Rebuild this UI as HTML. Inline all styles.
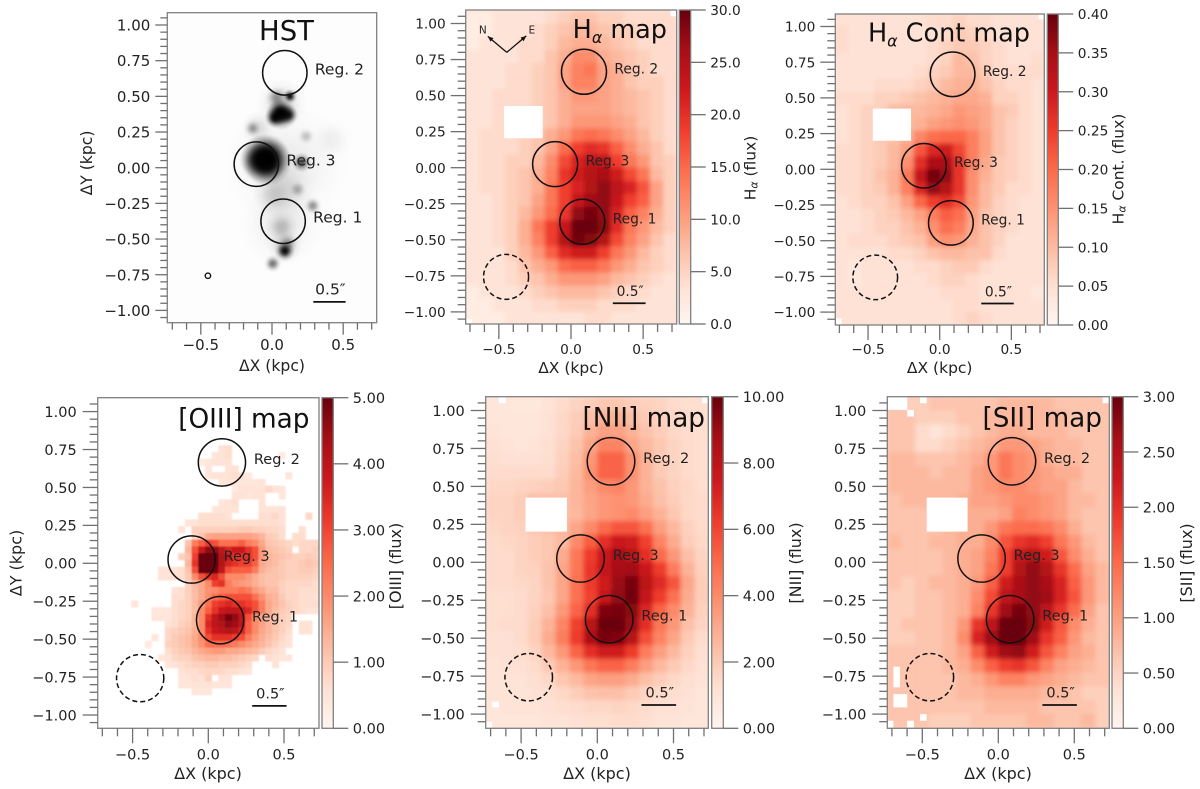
<!DOCTYPE html>
<html lang="en">
<head>
<meta charset="utf-8">
<title>Emission line maps</title>
<style>
html,body{margin:0;padding:0;background:#fff;width:1200px;height:789px;overflow:hidden}
svg{display:block}
text{font-family:"DejaVu Sans","Liberation Sans",sans-serif;fill:#222}
</style>
</head>
<body>
<svg id="figure" xmlns="http://www.w3.org/2000/svg" width="1200" height="789" viewBox="0 0 1200 789">
<defs>
<radialGradient id="psf"><stop offset="0" stop-color="#000" stop-opacity="1"/><stop offset=".3" stop-color="#000" stop-opacity=".8"/><stop offset=".5" stop-color="#000" stop-opacity=".48"/><stop offset=".7" stop-color="#000" stop-opacity=".2"/><stop offset="1" stop-color="#000" stop-opacity="0"/></radialGradient>
<filter id="softLarge" x="-5%" y="-5%" width="110%" height="110%"><feGaussianBlur stdDeviation="2.4"/></filter>
<filter id="softSmall" x="-5%" y="-5%" width="110%" height="110%"><feGaussianBlur stdDeviation="0.7"/></filter>
<filter id="softHst" x="-5%" y="-5%" width="110%" height="110%"><feGaussianBlur stdDeviation="0.9"/></filter>
<linearGradient id="redsBar" x1="0" y1="1" x2="0" y2="0"></linearGradient>
</defs>
</svg>
<script>
// Axis tick data (kpc)
const xMajorTicks = [-0.5, 0, 0.5];
const xMajorLabels = ['\u22120.5', '0.0', '0.5'];
const xMinorTicks = [-0.7, -0.6, -0.4, -0.3, -0.2, -0.1, 0.1, 0.2, 0.3, 0.4, 0.6, 0.7];
const yMajorTicks = [1, 0.75, 0.5, 0.25, 0, -0.25, -0.5, -0.75, -1];
const yMajorLabels = ['1.00', '0.75', '0.50', '0.25', '0.00', '\u22120.25', '\u22120.50', '\u22120.75', '\u22121.00'];
const yMinorTicks = [1.05, 0.95, 0.9, 0.85, 0.8, 0.7, 0.65, 0.6, 0.55, 0.45, 0.4, 0.35, 0.3, 0.2, 0.15, 0.1, 0.05, -0.05, -0.1, -0.15, -0.2, -0.3, -0.35, -0.4, -0.45, -0.55, -0.6, -0.65, -0.7, -0.8, -0.85, -0.9, -0.95, -1.05];

// Colour bar ticks (flux)
const haBarValues = [0, 5, 10, 15, 20, 25, 30];
const haBarLabels = ['0.0', '5.0', '10.0', '15.0', '20.0', '25.0', '30.0'];
const contBarValues = [0, 0.05, 0.1, 0.15, 0.2, 0.25, 0.3, 0.35, 0.4];
const contBarLabels = ['0.00', '0.05', '0.10', '0.15', '0.20', '0.25', '0.30', '0.35', '0.40'];
const oiiiBarValues = [0, 1, 2, 3, 4, 5];
const oiiiBarLabels = ['0.00', '1.00', '2.00', '3.00', '4.00', '5.00'];
const niiBarValues = [0, 2, 4, 6, 8, 10];
const niiBarLabels = ['0.00', '2.00', '4.00', '6.00', '8.00', '10.00'];
const siiBarValues = [0, 0.5, 1, 1.5, 2, 2.5, 3];
const siiBarLabels = ['0.00', '0.50', '1.00', '1.50', '2.00', '2.50', '3.00'];

// Region apertures: name, x, y (kpc)
const regionNames = ['Reg. 2', 'Reg. 3', 'Reg. 1'];
const regionX = [0.09, -0.11, 0.078];
const regionY = [0.665, 0.025, -0.375];
const regionRadius = 0.156;
const backgroundAperture = [-0.45, -0.757];

// Hubble image: bright knots (x, y, radius in kpc, darkness)
const hstKnotX = [0.1, 0.07, 0.07, 0.42, -0.1, 0.08, 0.09, -0.06, -0.03, -0.04, -0.1, 0.063, 0.06, 0.02, 0.115, 0.126, 0.033, -0.136, 0.24, 0.208, 0.18, 0.286, 0.09, 0.005, 0.068, 0.01, 0.11];
const hstKnotY = [0.02, -0.4, 0.45, 0.2, 0.28, -0.15, -0.55, 0.06, 0.04, 0.07, 0.05, 0.375, 0.385, 0.35, 0.37, 0.5, 0.49, 0.276, 0.22, 0.037, -0.152, -0.267, -0.583, -0.672, -0.415, -0.2, -0.53];
const hstKnotR = [0.45, 0.3, 0.18, 0.15, 0.12, 0.22, 0.12, 0.17, 0.17, 0.17, 0.12, 0.11, 0.09, 0.07, 0.07, 0.05, 0.08, 0.06, 0.06, 0.07, 0.06, 0.06, 0.07, 0.06, 0.11, 0.14, 0.07];
const hstKnotI = [0.07, 0.08, 0.14, 0.05, 0.12, 0.12, 0.18, 1, 1, 1, 0.5, 1, 1, 1, 0.9, 1, 0.4, 0.35, 0.22, 0.7, 0.28, 0.42, 1, 0.55, 0.22, 0.1, 0.3];

// H-alpha flux, 16 x 24 map, top row first
const haValues = [
[1,1,2,2,2,2,3,4,5,5,4,4,3,3,3,3],
[1,1,2,2,2,3,4,5,6,6,5,4,4,3,3,3],
[1,2,2,2,3,3,4,6,7,7,6,5,4,3,3,3],
[2,2,2,2,3,3,5,7,10,10,7,6,5,4,3,3],
[2,2,2,3,3,4,5,8,11,12,8,7,5,4,3,3],
[2,2,2,3,3,4,5,8,11,11,8,7,5,4,4,3],
[2,2,3,3,3,4,5,7,9,9,8,7,6,5,4,3],
[2,2,3,3,3,4,5,7,8,8,8,7,6,5,4,3],
[2,2,3,3,3,4,5,7,9,9,9,8,7,5,4,3],
[2,3,3,3,4,5,7,9,12,13,12,10,8,6,4,3],
[2,3,3,3,4,5,8,13,17,19,18,14,10,7,5,3],
[2,3,3,4,4,6,10,16,20,23,23,17,12,9,5,4],
[2,3,3,4,5,7,11,18,21,24,25,21,16,12,6,4],
[2,3,3,4,5,7,12,17,20,24,27,23,20,15,8,4],
[2,2,3,4,5,8,12,17,22,26,27,22,17,14,8,4],
[2,2,3,4,6,9,13,18,27,29,27,20,14,11,7,4],
[2,2,3,4,7,12,17,22,30,30,28,19,12,9,6,4],
[2,2,3,4,7,11,17,24,29,28,24,16,11,8,5,3],
[2,2,2,4,6,9,14,19,21,21,17,12,9,6,4,3],
[2,2,2,3,5,7,9,13,14,14,12,9,7,5,4,3],
[2,2,2,3,4,5,7,9,9,9,8,6,5,4,3,2],
[1,2,2,2,3,4,5,6,6,6,5,4,3,3,2,2],
[1,1,2,2,2,3,3,4,4,4,3,3,3,2,2,2],
[1,1,1,2,2,2,2,2,2,3,3,2,2,2,2,2]];

// H-alpha continuum flux x 100
const contValues = [
[3,3,3,3,3,3,3,4,4,5,4,4,3,3,3,3],
[4,3,3,3,3,3,3,3,4,6,5,4,3,3,3,3],
[4,3,3,3,3,3,3,4,5,6,6,5,4,3,3,3],
[3,3,3,3,3,3,3,4,5,8,7,5,4,3,3,4],
[3,3,3,3,3,3,4,5,6,8,8,6,4,4,4,4],
[3,3,3,4,4,4,5,6,8,9,9,7,5,4,4,3],
[4,4,4,5,5,6,7,8,9,10,10,9,5,5,4,3],
[3,4,5,5,8,8,8,9,10,12,11,10,7,6,4,3],
[3,4,5,6,8,8,9,11,12,13,12,10,7,5,4,3],
[3,4,5,6,7,9,14,17,18,18,15,11,7,5,4,3],
[4,4,5,6,8,11,20,26,28,22,15,11,7,5,4,3],
[4,4,5,6,8,13,25,33,33,24,15,10,6,5,4,3],
[4,4,5,7,9,16,30,39,36,24,13,9,6,5,4,3],
[4,4,5,6,9,15,26,36,32,24,13,8,6,4,4,3],
[3,4,5,5,7,11,18,23,25,21,12,8,5,4,3,3],
[3,3,4,5,6,8,11,15,19,17,11,7,5,4,3,3],
[3,3,4,5,5,7,9,13,17,15,10,7,5,4,3,3],
[3,4,4,4,5,6,7,11,13,12,9,7,5,3,3,3],
[3,3,3,3,4,4,5,7,8,8,7,7,4,3,3,3],
[3,2,3,3,3,3,4,4,5,6,6,4,3,3,3,3],
[3,2,3,3,3,3,3,4,5,5,4,3,3,3,3,3],
[3,3,3,3,3,3,3,3,4,4,4,3,3,3,3,2],
[3,3,3,3,3,3,3,3,3,4,4,3,3,3,3,3],
[3,3,3,3,3,3,3,3,3,4,5,4,3,3,3,3]];

// [NII] flux x 10
const niiValues = [
[6,6,5,5,7,10,12,14,16,16,14,13,12,10,9,9],
[6,6,6,6,8,11,14,18,22,22,18,15,13,11,10,9],
[7,6,6,6,8,11,15,22,27,27,22,17,14,11,10,9],
[8,7,6,7,9,12,17,26,36,36,26,20,16,12,10,9],
[9,8,8,8,9,13,19,30,46,46,32,22,15,12,10,9],
[10,10,10,10,10,14,20,32,46,46,32,22,15,12,10,9],
[11,11,12,13,14,16,21,28,34,36,30,22,17,13,11,9],
[12,12,14,18,18,18,21,26,30,32,30,24,18,14,11,10],
[12,12,14,18,18,18,20,26,30,32,34,28,22,16,11,10],
[11,12,13,16,18,20,26,34,44,50,50,42,28,20,13,10],
[10,11,12,14,16,20,34,48,62,72,70,56,36,24,14,11],
[10,10,12,14,16,24,40,58,72,82,78,62,44,30,18,12],
[10,10,12,13,17,26,40,60,74,84,86,72,58,38,22,13],
[10,10,11,12,17,26,42,58,70,88,96,78,64,50,26,14],
[9,9,10,12,16,26,42,56,72,90,98,74,58,42,24,14],
[9,9,10,13,18,30,46,62,94,96,92,66,46,34,22,13],
[9,10,10,14,22,36,56,78,99,99,88,62,40,30,18,12],
[8,8,10,14,24,38,58,82,96,94,80,52,36,26,15,10],
[8,8,9,12,20,30,46,62,70,70,58,38,28,20,13,9],
[7,8,8,10,15,22,30,40,46,46,38,28,20,15,11,8],
[7,7,7,9,11,16,20,26,28,28,24,18,14,11,9,7],
[7,7,7,8,9,11,14,17,18,18,15,12,10,9,8,6],
[6,7,7,7,8,9,10,11,11,12,11,10,8,8,7,6],
[6,6,6,6,7,7,8,9,9,10,10,9,7,7,6,6]];

// [SII] flux x 10
const siiValues = [
[5,4,4,5,5,5,5,5,6,6,6,6,5,5,5,5],
[5,5,4,4,4,5,5,6,6,6,6,6,6,5,5,5],
[5,5,3,2,3,4,5,6,7,7,6,6,6,5,5,5],
[5,5,3,3,4,5,6,7,9,9,8,7,6,6,5,5],
[6,6,5,5,5,6,7,9,12,10,9,7,6,6,5,5],
[6,6,6,5,6,6,8,9,12,10,9,8,7,7,5,5],
[6,6,6,6,6,6,8,9,10,10,9,8,8,6,5,5],
[5,6,6,6,6,7,8,8,9,10,10,9,8,6,6,5],
[5,5,5,6,6,7,7,7,8,11,10,9,8,6,5,5],
[5,5,5,5,6,7,7,9,12,13,13,12,10,7,5,5],
[6,5,5,6,6,7,7,10,15,18,19,17,12,9,6,5],
[5,5,5,5,6,7,8,11,17,22,24,21,15,10,7,5],
[5,5,5,5,6,7,8,12,17,24,27,24,18,13,8,6],
[5,4,5,6,6,7,9,14,21,25,27,25,20,14,9,6],
[4,4,5,5,6,7,10,16,23,25,27,26,20,15,9,6],
[4,4,5,5,6,7,11,18,26,29,27,23,18,13,8,5],
[4,5,5,5,6,9,18,23,30,30,28,21,15,10,7,5],
[4,4,5,5,6,10,20,26,30,30,26,18,14,9,6,5],
[5,5,5,5,6,8,14,21,26,27,21,15,11,8,7,5],
[5,5,5,5,6,7,10,14,17,18,15,11,8,7,6,5],
[5,5,5,5,5,6,7,9,11,11,9,8,7,6,5,5],
[5,5,5,5,5,6,6,7,7,7,7,6,6,5,4,4],
[5,5,5,5,5,5,5,6,6,6,6,5,5,5,5,4],
[5,5,5,4,4,4,5,5,5,5,6,6,5,5,6,4]];

// [OIII] flux x 10, 33 x 49 map: first filled column for each row, then its values (0 = no detection)
const oiiiStartColumn = [0,0,0,0,0,0,0,18,17,15,16,16,18,20,20,18,17,15,13,12,14,13,13,12,13,9,9,13,11,11,5,8,8,10,10,8,7,10,9,10,12,12,12,14,0,0,0,0,0];
const oiiiValues = [
[],[],[],[],[],[],[],
[5,6],
[4,5,6,0,0,0,0,0,0,0,3],
[3,4,5,5,5],
[4,0,0,5,5],
[4,5,5,5,6,5,3,0,0,0,0,0,4],
[4,5,4,4,4,4,5],
[3,5,5,5,5,7,5,4],
[5,5,4,5,5,0,0,4],
[4,5,6,0,0,0,5],
[4,5,5,5,0,0,0,5,5,5,5],
[6,6,6,6,5,0,0,0,0,6,6,7,5,0,0,0,7],
[5,5,6,6,6,6,6,6,6,6,6,6,6,6,5],
[5,0,8,8,8,8,8,8,8,9,9,8,8,7,7,6,0,0,6],
[7,10,14,15,15,15,15,15,15,14,12,9,8,6,0,6,6],
[10,20,24,28,26,22,22,22,24,20,18,14,10,9,8,7,6,7,7,7],
[12,26,34,42,42,36,32,34,34,30,26,16,11,10,9,8,0,7,7,8],
[8,10,28,48,50,46,38,34,30,30,30,26,16,12,11,10,9,8,8,9,8],
[12,30,50,50,46,38,32,30,28,28,24,14,12,11,9,8,8,9,10,9],
[5,5,5,6,10,26,46,48,44,36,26,24,24,24,20,13,11,10,9,8,8,9,9,8],
[5,5,5,6,9,18,26,30,32,26,18,18,18,16,13,11,10,10,9,8,8,8,8,7],
[8,12,14,18,28,30,20,17,16,15,13,11,10,10,8,7,7,7,7,6],
[5,6,8,11,14,17,18,20,20,20,22,20,16,14,11,11,8,7,7,6,6,6],
[6,6,8,11,14,18,22,24,26,26,26,26,22,17,13,12,9,7,7,6,6,5],
[4,0,0,0,0,0,6,7,8,11,16,22,28,30,32,30,30,28,26,20,14,12,10,8,7,6,6,6],
[4,4,4,6,7,8,11,18,24,30,34,36,36,34,32,26,20,14,11,9,8,7,6,5,5],
[4,4,4,6,7,8,12,18,30,36,40,44,42,36,26,18,14,12,10,8,7],
[5,6,8,9,12,18,32,36,38,42,40,36,24,18,15,12,10,8,7,0,5,5],
[7,8,9,10,13,18,30,34,36,38,36,32,24,18,14,12,10,8,6,0,5,5],
[4,0,7,9,10,11,14,18,26,30,30,30,28,26,20,16,13,11,9,7,5],
[3,0,0,8,9,10,11,14,17,22,22,22,22,20,18,16,14,12,10,8,6,5],
[6,8,9,10,12,14,15,16,16,14,14,13,12,11,9,7,6,5],
[4,5,7,8,8,10,11,12,12,11,11,10,9,8,7,0,6,5,4,4],
[4,5,6,7,8,8,9,9,8,8,8,7,6,0,0,0,5],
[5,6,6,7,7,7,7,6,6,5,4],
[4,5,6,5,8,0,5,5],
[4,4,5,5,5,4,4,4],
[4,4,4],
[],[],[],[],[]];

// Masked regions (xmin, xmax, ymin, ymax in kpc)
const haMasked = [[-0.464,-0.196,0.204,0.428],[0.69,0.73,1.05,1.09],[-0.73,-0.685,-1.087,-1.05]];
const contMasked = [[-0.467,-0.2,0.2,0.425],[0.69,0.73,1.05,1.09],[-0.73,-0.685,-1.09,-1.045]];
const niiMasked = [[-0.471,-0.199,0.202,0.426],[-0.647,-0.6,1.048,1.09],[0.69,0.73,1.048,1.09],[-0.69,-0.645,-0.956,-0.918],[-0.73,-0.69,-1.09,-1.05]];
const siiMasked = [[-0.471,-0.202,0.202,0.426],[-0.73,-0.599,1.004,1.09],[-0.599,-0.555,0.96,1.004],[-0.515,-0.471,1.048,1.09],[-0.69,-0.647,-0.824,-0.688],[-0.69,-0.599,-0.956,-0.868],[-0.515,-0.471,-1.044,-1.0],[-0.73,-0.69,-1.09,-1.044],[-0.6,-0.555,-1.09,-1.044],[0.686,0.73,1.048,1.09]];

// Reds colour map
const redsStops = ['#fff5f0','#fee0d2','#fcbba1','#fc9272','#fb6a4a','#ef3b2c','#cb181d','#a50f15','#67000d'];

const SVGNS = 'http://www.w3.org/2000/svg';
const root = document.getElementById('figure');
const XLIM = [-0.73, 0.73];
const YLIM = [-1.09, 1.09];

function hexToRgb(h) {
  return [parseInt(h.slice(1, 3), 16), parseInt(h.slice(3, 5), 16), parseInt(h.slice(5, 7), 16)];
}
function reds(t) {
  const u = Math.max(0, Math.min(1, t)) * (redsStops.length - 1);
  const i = Math.min(redsStops.length - 2, Math.floor(u));
  const a = hexToRgb(redsStops[i]);
  const b = hexToRgb(redsStops[i + 1]);
  const f = u - i;
  return 'rgb(' + a.map(function (v, k) { return Math.round(v + (b[k] - v) * f); }).join(',') + ')';
}
function make(tag, parent, name, attrs, interact) {
  const el = document.createElementNS(SVGNS, tag);
  
  
  Object.keys(attrs).forEach(function (k) { el.setAttribute(k, attrs[k]); });
  parent.appendChild(el);
  return el;
}
function label(parent, name, str, attrs) {
  const t = make('text', parent, name, attrs);
  t.textContent = str;
  return t;
}

redsStops.forEach(function (c, i) {
  const s = document.createElementNS(SVGNS, 'stop');
  s.setAttribute('offset', i / (redsStops.length - 1));
  s.setAttribute('stop-color', c);
  document.getElementById('redsBar').appendChild(s);
});

function drawPanel(p) {
  const g = make('g', root, p.id + '-panel', {});
  const sx = function (v) { return p.x0 + v * p.kx; };
  const sy = function (v) { return p.y0 - v * p.ky; };
  const clipId = 'clip-' + p.id;
  const defs = document.createElementNS(SVGNS, 'clipPath');
  defs.setAttribute('id', clipId);
  const cr = document.createElementNS(SVGNS, 'rect');
  cr.setAttribute('x', p.l); cr.setAttribute('y', p.t);
  cr.setAttribute('width', p.r - p.l); cr.setAttribute('height', p.b - p.t);
  defs.appendChild(cr);
  root.querySelector('defs').appendChild(defs);

  const plot = make('g', g, p.id + '-image', { 'clip-path': 'url(#' + clipId + ')' });
  make('rect', plot, p.id + '-image-background', { x: p.l, y: p.t, width: p.r - p.l, height: p.b - p.t, fill: p.bg });

  if (p.knots) {
    const kg = make('g', plot, 'hst-knots', { filter: 'url(#softHst)' });
    hstKnotX.forEach(function (x, i) {
      make('ellipse', kg, 'hst-knot', {
        cx: sx(x), cy: sy(hstKnotY[i]),
        rx: hstKnotR[i] * p.kx, ry: hstKnotR[i] * p.ky,
        fill: 'url(#psf)', 'fill-opacity': hstKnotI[i]
      });
    });
  }
  if (p.values) {
    const cells = make('g', plot, p.id + '-heatmap', { filter: 'url(#' + p.soft + ')' });
    const nRows = p.values.length;
    const nCols = p.columns;
    const dx = (XLIM[1] - XLIM[0]) / nCols;
    const dy = (YLIM[1] - YLIM[0]) / nRows;
    p.values.forEach(function (row, r) {
      const start = p.starts ? p.starts[r] : 0;
      row.forEach(function (v, c) {
        if (!v) return;
        const cx0 = XLIM[0] + (start + c) * dx;
        const cy1 = YLIM[1] - r * dy;
        make('rect', cells, p.id + '-cell', {
          x: sx(cx0), y: sy(cy1),
          width: dx * p.kx + 0.35, height: dy * p.ky + 0.35,
          fill: reds(Math.pow(Math.min(1, v * p.gain / p.vmax), p.gamma))
        });
      });
    });
  }
  (p.masked || []).forEach(function (m) {
    make('rect', plot, p.id + '-masked-region', {
      x: sx(m[0]), y: sy(m[3]), width: (m[1] - m[0]) * p.kx, height: (m[3] - m[2]) * p.ky, fill: '#fff'
    });
  });

  // apertures
  regionNames.forEach(function (n, i) {
    make('ellipse', g, 'aperture-' + (i === 0 ? 'reg-2' : i === 1 ? 'reg-3' : 'reg-1'), {
      cx: sx(regionX[i]), cy: sy(regionY[i]), rx: regionRadius * p.kx, ry: regionRadius * p.ky,
      fill: 'none', stroke: '#111', 'stroke-width': 1.5
    });
    const lx = regionX[i] + regionRadius + 0.055;
    label(g, 'region-label', n, { x: sx(lx), y: sy(regionY[i]) + 1.5, 'font-size': p.regFs });
  });
  if (p.knots) {
    make('ellipse', g, 'psf-circle', { cx: sx(backgroundAperture[0]), cy: sy(backgroundAperture[1]), rx: 2.7, ry: 2.7, fill: 'none', stroke: '#111', 'stroke-width': 1.4 });
  } else {
    make('ellipse', g, 'background-aperture', {
      cx: sx(backgroundAperture[0]), cy: sy(backgroundAperture[1]), rx: regionRadius * p.kx, ry: regionRadius * p.ky,
      fill: 'none', stroke: '#111', 'stroke-width': 1.5, 'stroke-dasharray': '5 3'
    });
  }

  // scale bar
  make('line', g, 'scale-bar', { x1: sx(0.29), x2: sx(0.517), y1: sy(-0.94), y2: sy(-0.94), stroke: '#111', 'stroke-width': 1.7 });
  label(g, 'scale-bar-label', '0.5\u2033', { x: sx(0.41), y: sy(-0.89), 'font-size': p.regFs, 'text-anchor': 'middle' });

  // title
  const tt = make('text', g, 'panel-title', { x: p.titleX, y: p.titleY, 'font-size': p.titleFs, 'text-anchor': p.titleAnchor, style: 'fill:#111' });
  p.title.forEach(function (part) {
    const ts = document.createElementNS(SVGNS, 'tspan');
    ts.textContent = part[0];
    if (part[1] === 'sub') {
      ts.setAttribute('font-size', p.titleFs * 0.62);
      ts.setAttribute('font-style', 'italic');
      ts.setAttribute('dy', 5);
    } else if (part[1] === 'after') {
      ts.setAttribute('dy', -5);
    }
    tt.appendChild(ts);
  });

  // frame
  make('rect', g, p.id + '-axes-frame', { x: p.l, y: p.t, width: p.r - p.l, height: p.b - p.t, fill: 'none', stroke: '#808080', 'stroke-width': 1.3 });

  // ticks
  const tickStroke = { stroke: '#707070', 'stroke-width': 1.3 };
  function tick(name, x1, y1, x2, y2) {
    make('line', g, name, Object.assign({ x1: x1, y1: y1, x2: x2, y2: y2 }, tickStroke));
  }
  xMinorTicks.forEach(function (v) { tick('x-minor-tick', sx(v), p.b, sx(v), p.b + p.minor); });
  xMajorTicks.forEach(function (v, i) {
    tick('x-major-tick', sx(v), p.b, sx(v), p.b + p.major);
    label(g, 'x-tick-label', xMajorLabels[i], { x: sx(v), y: p.b + p.xTickDy, 'font-size': p.fs, 'text-anchor': 'middle' });
  });
  yMinorTicks.forEach(function (v) { tick('y-minor-tick', p.l - p.minor, sy(v), p.l, sy(v)); });
  yMajorTicks.forEach(function (v, i) {
    tick('y-major-tick', p.l - p.major, sy(v), p.l, sy(v));
    label(g, 'y-tick-label', yMajorLabels[i], { x: p.l - p.yTickGap, y: sy(v) + p.fs * 0.37, 'font-size': p.fs, 'text-anchor': 'end' });
  });
  label(g, 'x-axis-title', '\u0394X (kpc)', { x: p.xLabelX, y: p.b + p.xLabelDy, 'font-size': p.labelFs, 'text-anchor': 'middle' });
  if (p.yLabelX) {
    label(g, 'y-axis-title', '\u0394Y (kpc)', {
      x: p.yLabelX, y: p.yLabelY, 'font-size': p.labelFs, 'text-anchor': 'middle', 'dominant-baseline': 'central',
      transform: 'rotate(-90 ' + p.yLabelX + ' ' + p.yLabelY + ')'
    });
  }

  // colour bar
  if (p.barL) {
    const barH = p.b - p.t;
    make('rect', g, p.id + '-colorbar', { x: p.barL, y: p.t, width: p.barR - p.barL, height: barH, fill: 'url(#redsBar)', stroke: '#808080', 'stroke-width': 1.3 });
    const top = p.barValues[p.barValues.length - 1];
    p.barValues.forEach(function (v, i) {
      const y = p.b - (v / top) * barH;
      tick('colorbar-tick', p.barR, y, p.barR + p.major, y);
      label(g, 'colorbar-tick-label', p.barLabels[i], { x: p.barR + p.major + 4.5, y: y + p.fs * 0.37, 'font-size': p.fs });
    });
    const cb = make('text', g, 'colorbar-title', {
      x: p.barTitleX, y: p.barTitleY, 'font-size': p.labelFs, 'text-anchor': 'middle', 'dominant-baseline': 'central',
      transform: 'rotate(-90 ' + p.barTitleX + ' ' + p.barTitleY + ')'
    });
    p.barTitle.forEach(function (part) {
      const ts = document.createElementNS(SVGNS, 'tspan');
      ts.textContent = part[0];
      if (part[1] === 'sub') {
        ts.setAttribute('font-size', p.labelFs * 0.7);
        ts.setAttribute('font-style', 'italic');
        ts.setAttribute('dy', 3);
      } else if (part[1] === 'after') {
        ts.setAttribute('dy', -3);
      }
      cb.appendChild(ts);
    });
  }

  // north / east compass
  if (p.compass) {
    const vx = p.x0 - 0.445 * p.kx, vy = p.y0 - 0.80 * p.ky;
    [[-19, -16, 'compass-north-arrow'], [19.5, -16.5, 'compass-east-arrow']].forEach(function (a) {
      make('line', g, a[2], { x1: vx, y1: vy, x2: vx + a[0], y2: vy + a[1], stroke: '#111', 'stroke-width': 1.3 });
      const ang = Math.atan2(a[1], a[0]);
      const ex = vx + a[0], ey = vy + a[1];
      const pts = [[ex, ey], [ex - 6 * Math.cos(ang - 0.4), ey - 6 * Math.sin(ang - 0.4)], [ex - 6 * Math.cos(ang + 0.4), ey - 6 * Math.sin(ang + 0.4)]];
      make('polygon', g, a[2] + '-head', { points: pts.map(function (q) { return q.join(','); }).join(' '), fill: '#111' });
    });
    label(g, 'compass-north-label', 'N', { x: vx - 24, y: vy - 19, 'font-size': 10.5, 'text-anchor': 'middle' });
    label(g, 'compass-east-label', 'E', { x: vx + 25, y: vy - 19, 'font-size': 10.5, 'text-anchor': 'middle' });
  }
}

const panels = [
  { id: 'hst', l: 167.3, r: 376.7, t: 12.7, b: 322.7, x0: 272, y0: 167.7, kx: 142.4, ky: 142.7, bg: '#fdfdfd', knots: true,
    fs: 15, regFs: 15.5, labelFs: 15.6, major: 12, minor: 7, xTickDy: 27.5, yTickGap: 17, xLabelX: 272, xLabelDy: 48.5, yLabelX: 87, yLabelY: 163,
    title: [['HST']], titleX: 286.5, titleY: 40, titleFs: 27.5, titleAnchor: 'middle' },
  { id: 'h-alpha', l: 465.7, r: 676.7, t: 10, b: 324, x0: 571, y0: 167.7, kx: 144.3, ky: 144.2, bg: '#fee5d9', values: haValues, columns: 16, vmax: 30, gain: 1, gamma: 0.85, soft: 'softLarge', masked: haMasked,
    fs: 13.7, regFs: 13.8, labelFs: 15.5, major: 15, minor: 8, xTickDy: 30, yTickGap: 20, xLabelX: 571, xLabelDy: 49,
    title: [['H'], ['\u03b1', 'sub'], [' map', 'after']], titleX: 667, titleY: 38, titleFs: 25.5, titleAnchor: 'end', compass: true,
    barL: 679.3, barR: 690.7, barValues: haBarValues, barLabels: haBarLabels, barTitle: [['H'], ['\u03b1', 'sub'], [' (flux)', 'after']], barTitleX: 750.5, barTitleY: 168 },
  { id: 'h-alpha-cont', l: 835.3, r: 1044.3, t: 14, b: 325, x0: 939.7, y0: 169.3, kx: 143.3, ky: 142.8, bg: '#fee5d9', values: contValues, columns: 16, vmax: 40, gain: 1, gamma: 0.85, soft: 'softLarge', masked: contMasked,
    fs: 13.7, regFs: 13.8, labelFs: 15.5, major: 15, minor: 8, xTickDy: 29, yTickGap: 20, xLabelX: 939.7, xLabelDy: 48,
    title: [['H'], ['\u03b1', 'sub'], [' Cont map', 'after']], titleX: 1030, titleY: 41.5, titleFs: 25.5, titleAnchor: 'end',
    barL: 1047.3, barR: 1058.3, barValues: contBarValues, barLabels: contBarLabels, barTitle: [['H'], ['\u03b1', 'sub'], [' Cont. (flux)', 'after']], barTitleX: 1118.5, barTitleY: 169 },
  { id: 'oiii', l: 97.7, r: 319, t: 397.7, b: 728.3, x0: 208.3, y0: 563.3, kx: 151.4, ky: 151.7, bg: '#ffffff', values: oiiiValues, starts: oiiiStartColumn, columns: 33, vmax: 50, gain: 1.1, gamma: 1, soft: 'softSmall',
    fs: 14.5, regFs: 14.5, labelFs: 16, major: 15, minor: 8, xTickDy: 31, yTickGap: 21, xLabelX: 208, xLabelDy: 50.5, yLabelX: 16, yLabelY: 563,
    title: [['[OIII] map']], titleX: 309.5, titleY: 427.5, titleFs: 26.3, titleAnchor: 'end',
    barL: 322, barR: 333.3, barValues: oiiiBarValues, barLabels: oiiiBarLabels, barTitle: [['[OIII] (flux)']], barTitleX: 395, barTitleY: 566 },
  { id: 'nii', l: 485.7, r: 708.3, t: 396.7, b: 728.3, x0: 597.3, y0: 562.3, kx: 152.4, ky: 151.8, bg: '#fee5d9', values: niiValues, columns: 16, vmax: 100, gain: 1, gamma: 0.85, soft: 'softLarge', masked: niiMasked,
    fs: 14.5, regFs: 14.5, labelFs: 16, major: 15, minor: 8, xTickDy: 31, yTickGap: 21, xLabelX: 597, xLabelDy: 50.5,
    title: [['[NII] map']], titleX: 705, titleY: 426.5, titleFs: 26.3, titleAnchor: 'end',
    barL: 711.7, barR: 723.3, barValues: niiBarValues, barLabels: niiBarLabels, barTitle: [['[NII] (flux)']], barTitleX: 795, barTitleY: 563 },
  { id: 'sii', l: 887.3, r: 1109.3, t: 396.7, b: 728.3, x0: 998.3, y0: 562.3, kx: 152, ky: 151.8, bg: '#fdd0bc', values: siiValues, columns: 16, vmax: 30, gain: 1, gamma: 0.85, soft: 'softLarge', masked: siiMasked,
    fs: 14.5, regFs: 14.5, labelFs: 16, major: 15, minor: 8, xTickDy: 31, yTickGap: 21, xLabelX: 998, xLabelDy: 50.5,
    title: [['[SII] map']], titleX: 1102, titleY: 426.5, titleFs: 26.3, titleAnchor: 'end',
    barL: 1112, barR: 1123.3, barValues: siiBarValues, barLabels: siiBarLabels, barTitle: [['[SII] (flux)']], barTitleX: 1186, barTitleY: 563 }
];
panels.forEach(drawPanel);
</script>
</body>
</html>
